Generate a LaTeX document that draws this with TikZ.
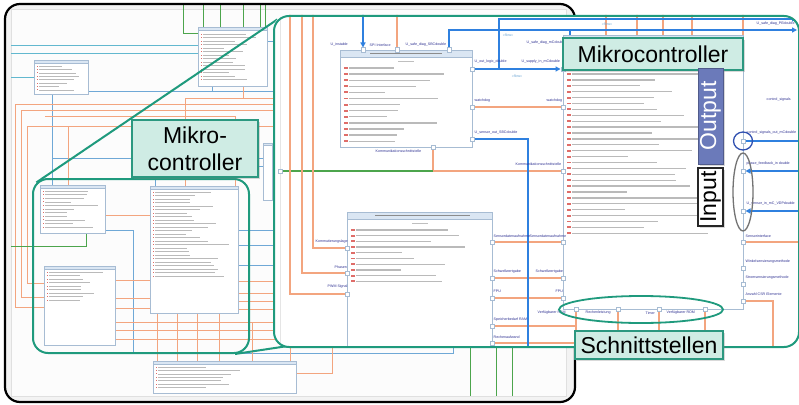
\documentclass[tikz,border=0pt]{standalone}
\usepackage{fontspec}
\usepackage{graphicx}
\setmainfont{Liberation Sans}
\usetikzlibrary{calc}
\usetikzlibrary{shadows}
\usetikzlibrary{arrows.meta}

\definecolor{lupengruen}{HTML}{1F9A7D}
\definecolor{etikettgrund}{HTML}{CFECE4}
\definecolor{etikettrand}{HTML}{2C9880}
\definecolor{leitungorange}{HTML}{F3A57F}
\definecolor{flussblau}{HTML}{2F80DF}
\definecolor{duennblau}{HTML}{6FA8D6}
\definecolor{tuerkis}{HTML}{62B8CF}
\definecolor{leitunggruen}{HTML}{4CA54C}
\definecolor{kastenrand}{HTML}{A7BCD3}
\definecolor{kopfblau}{HTML}{DAE6F3}
\definecolor{markerrot}{HTML}{D9534F}
\definecolor{beschriftung}{HTML}{2E3192}
\definecolor{ausgabe}{HTML}{6B7ABA}
\definecolor{ovalblau}{HTML}{3050B0}
\definecolor{hintergrund}{HTML}{F3F3F3}

\tikzset{
	rahmen/.style={draw=black, line width=2.2pt, rounded corners=15pt},
	lupenrand/.style={draw=lupengruen, line width=2pt, rounded corners=15pt},
	etikett/.style={draw=etikettrand, fill=etikettgrund, line width=1.5pt, inner sep=0pt,
		font=\fontsize{23}{27}\selectfont,
		drop shadow={opacity=0.3, shadow xshift=2pt, shadow yshift=-2pt}},
	ausgabestil/.style={draw=ausgabe!75!black, fill=ausgabe, text=white, line width=1pt, inner sep=0pt,
		font=\fontsize{23}{27}\selectfont,
		drop shadow={opacity=0.3, shadow xshift=2pt, shadow yshift=-2pt}},
	eingabestil/.style={draw=black!85, fill=white, line width=1.5pt, inner sep=0pt,
		font=\fontsize{23}{27}\selectfont,
		drop shadow={opacity=0.3, shadow xshift=2pt, shadow yshift=-2pt}},
	kastenstil/.style={draw=kastenrand, fill=white, line width=0.6pt, inner sep=0pt, anchor=north west},
	kopfstil/.style={draw=kastenrand, fill=kopfblau, line width=0.6pt},
	portstil/.style={draw=kastenrand, fill=white, line width=0.5pt, minimum size=4.5pt, inner sep=0pt},
	orangelinie/.style={draw=leitungorange, line width=1.6pt},
	orangeduenn/.style={draw=leitungorange, line width=0.8pt},
	flusslinie/.style={draw=flussblau, line width=2pt},
	blauduenn/.style={draw=duennblau, line width=0.8pt},
	tuerkisduenn/.style={draw=tuerkis, line width=0.9pt},
	gruenlinie/.style={draw=leitunggruen, line width=1.3pt},
	gruenduenn/.style={draw=leitunggruen, line width=0.7pt},
	klein/.style={font=\fontsize{3.6}{4}\selectfont, text=beschriftung, inner sep=0.5pt, anchor=west},
	flow/.style={font=\fontsize{3.6}{4}\selectfont, text=duennblau, inner sep=0.5pt},
	rotmarke/.style={fill=markerrot!85},
	textbalken/.style={draw=black!27},
	flussspitze/.style={arrows={-Triangle[length=5pt,width=5pt]}},
	flussanfang/.style={arrows={Triangle[length=5pt,width=5pt]-}}
}

% class box with header strip
\newcommand{\umlklasse}[6]{%
	\node[kastenstil, minimum width=#4pt-#2pt, minimum height=#5pt-#3pt] (#1) at (#2,#3) {};
	\filldraw[kopfstil] (#1.north west) rectangle ($(#1.north east)+(0,#6)$);
}
% attribute rows: x, first y, count, step, max length, size
\newcommand{\zeilen}[6]{%
	\foreach \n in {1,...,#3}{%
		\pgfmathsetmacro{\zy}{#2+(\n-1)*#4}%
		\pgfmathsetmacro{\zl}{#5*(0.35+0.65*rnd)}%
		\pgfmathsetmacro{\zw}{0.55*#6}%
		\fill[rotmarke] (#1,\zy-0.45*#6) rectangle ++(1.6*#6,0.9*#6);
		\draw[textbalken, line width=\zw pt] (#1+2.4*#6,\zy) -- ++(\zl,0);
	}}

\begin{document}
\begin{tikzpicture}[x=1pt,y=-1pt]
	\pgfmathsetseed{11}
	\useasboundingbox (0,0) rectangle (799,404);

	% overview diagram in the window
	\fill[hintergrund, rounded corners=15pt] (5,4) rectangle (575,402);
	\begin{scope}
		\clip[rounded corners=15pt] (5,4) rectangle (575,402);
		\draw[black!12, fill=black!1] (11,9) rectangle (566,396);
		\draw[gruenduenn] (183,4) -- (183,33) -- (198,33);
		\foreach \x in {203,220,243,260,265} \draw[gruenduenn] (\x,4) -- (\x,27);
		\draw[tuerkisduenn] (11,45) -- (198,45);
		\draw[tuerkisduenn] (11,53) -- (198,53);
		\draw[tuerkisduenn] (11,77) -- (34,77);
		\draw[blauduenn] (88,91) -- (280,91);
		\draw[blauduenn] (52,94) -- (52,185);
		\draw[blauduenn] (52,158) -- (280,158);
		\draw[blauduenn] (140,166) -- (280,166);
		\draw[blauduenn] (155,166) -- (155,186);
		\draw[blauduenn] (267,41) -- (280,41);
		\draw[blauduenn] (212,86) -- (212,91);
		\draw[orangeduenn] (243,86) -- (243,98);
		\draw[orangeduenn] (185,98) -- (280,98);
		\draw[orangeduenn] (280,104) -- (15,104) -- (15,307) -- (44,307);
		\draw[orangeduenn] (280,110) -- (21,110) -- (21,297) -- (44,297);
		\draw[orangeduenn] (280,126) -- (27,126) -- (27,283) -- (44,283);
		\draw[orangeduenn] (45,116) -- (235,116) -- (235,186);
		\draw[orangeduenn] (185,98) -- (185,186);
		\draw[orangeduenn] (68,126) -- (68,185);
		\draw[orangeduenn] (105,215) -- (150,215);
		\draw[blauduenn] (105,230) -- (133,230) -- (133,353) -- (453,353) -- (453,340);
		\draw[gruenduenn] (11,246) -- (86,246) -- (86,233);
		\foreach \y in {280,298,308} \draw[orangeduenn] (115,\y) -- (150,\y);
		\foreach \y in {322,330,339} \draw[orangeduenn] (115,\y) -- (280,\y);
		\foreach \y in {230,245,265} \draw[blauduenn] (238,\y) -- (280,\y);
		\foreach \y in {281,293,301,309} \draw[orangeduenn] (238,\y) -- (280,\y);
		\foreach \x in {157,177,197,219} \draw[orangeduenn] (\x,313) -- (\x,361);
		\draw[orangeduenn] (252,322) -- (252,361);
		\draw[orangeduenn] (290,340) -- (290,361);
		\draw[orangeduenn] (332,340) -- (332,373) -- (296,373);
		\foreach \x in {470,496,512} \draw[gruenduenn] (\x,340) -- (\x,396);

		\umlklasse{bgoben}{198}{27}{267}{86}{3}
		\zeilen{201}{34}{14}{3.5}{55}{0.9}
		\umlklasse{bglinks}{34}{60}{88}{94}{3}
		\zeilen{37}{66}{8}{3.4}{42}{0.9}
		\umlklasse{bgsaeule}{263}{143}{272}{200}{2}
		\umlklasse{sbA}{40}{185}{105}{233}{3}
		\zeilen{43}{191}{11}{3.6}{55}{0.9}
		\umlklasse{sbB}{150}{186}{238}{313}{3}
		\zeilen{153}{192}{25}{3.5}{80}{0.9}
		\umlklasse{sbC}{44}{266}{115}{345}{3}
		\zeilen{47}{272}{9}{3.5}{62}{0.9}
		\umlklasse{bgunten}{153}{361}{296}{393}{3}
		\zeilen{156}{367}{7}{3.4}{95}{0.9}
	\end{scope}
	\draw[rahmen] (5,4) rectangle (575,402);

	% magnifier frames
	\node[lupenrand, minimum width=216pt, minimum height=174pt, anchor=north west, inner sep=0pt] (lupeklein) at (32,178) {};
	\coordinate (grossNW) at (273,15);
	\coordinate (grossSW) at (273,346);
	\draw[lupenrand, rounded corners=0pt] ($(lupeklein.north west)+(4.4,4.4)$) -- ($(grossNW)+(4.4,4.4)$);
	\draw[lupenrand, rounded corners=0pt] ($(lupeklein.south east)+(-15,0)$) -- ($(grossSW)+(15,0)$);

	\begin{scope}
		\clip[rounded corners=15pt] (273,15) rectangle (798,346);
		\fill[white] (273,15) rectangle (798,346);
		\draw[black!10] (280,10) -- (280,350);

		\umlklasse{sbc}{340}{50}{472}{147}{7}
		\fill[black!45] (370,52.8) rectangle (442,54.3);
		\fill[black!25] (398,61) rectangle (414,62.3);
		\zeilen{344}{68}{13}{6.1}{100}{2.2}
		\umlklasse{mcf}{347}{212}{492}{360}{7}
		\fill[black!45] (375,214.8) rectangle (470,216.3);
		\fill[black!25] (412,223) rectangle (428,224.3);
		\zeilen{351}{230}{10}{5.7}{120}{2.2}
		\umlklasse{mc}{563}{35}{743}{309}{7}
		\zeilen{567}{74}{28}{5.9}{150}{2.2}

		\foreach \n/\x/\y in {a1/363/50, a2/397/50, a3/449/50, a4/472/69, a5/472/107, a6/472/139, a7/433/147,
			b1/347/248, b2/347/273, b3/347/294, b4/492/242, b5/492/278, b6/492/298, b7/492/326, b8/492/343,
			c1/563/69, c2/563/107, c3/563/171, c4/563/242, c5/563/278, c6/563/298,
			r1/743/141, r2/743/171, r3/743/211, r4/743/242, r5/743/268, r6/743/284, r7/743/301,
			u1/576/309, u2/618/309, u3/659/309, u4/705/309, g1/280/171}
			\node[portstil] (\n) at (\x,\y) {};

		\draw[orangelinie] (397,10) -- (a2);
		\draw[orangelinie] (a5) -- (c2);
		\draw[orangelinie] (a7) -- (433,171) -- (c3);
		\draw[gruenlinie] (g1) -- (433,171);
		\draw[orangelinie] (313,10) -- (313,248) -- (b1);
		\draw[orangelinie] (302,10) -- (302,273) -- (b2);
		\draw[orangelinie] (290,10) -- (290,294) -- (b3);
		\draw[orangelinie] (b4) -- (c4);
		\draw[orangelinie] (b5) -- (c5);
		\draw[orangelinie] (b6) -- (c6);
		\draw[orangelinie] (b7) -- (576,326);
		\draw[orangelinie] (b8) -- (576,343);
		\foreach \p in {u1,u2,u3,u4} \draw[orangelinie] (\p) -- (\p |- 0,350);
		\foreach \x in {606,637,663,692,743} \draw[orangelinie] (\x,10) -- (\x,35);
		\draw[orangelinie] (r4) -- (805,242);
		\draw[orangelinie] (r7) -- (773,301) -- (773,350);

		\draw[flusslinie, flussspitze] (363,10) -- (a1);
		\draw[flusslinie, flussspitze] (a3) -- (449,30) -- (797,30);
		\draw[flusslinie, flussspitze] (499,69) -- (499,19) -- (797,19);
		\draw[flusslinie, flussspitze] (a4) -- (c1);
		\draw[flusslinie] (570,30) -- (570,35);
		\draw[flusslinie] (a6) -- (528,139) -- (528,350);
		\draw[flusslinie] (r1) -- (805,141);
		\draw[flusslinie, flussanfang] (r2) -- (805,171);
		\draw[flusslinie, flussanfang] (r3) -- (805,211);

		\foreach \n/\x/\y/\t in {tl1/330/45/U\_instable, tl2/369/45/SPI Interface,
			tl3/405/45/U\_safe\_diag\_SBCdouble, tl4/526/43/U\_safe\_diag\_mCdouble,
			tl5/474/62/U\_out\_logic\_double, tl6/521/62/U\_supply\_in\_mCdouble,
			tl7/474/101/watchdog, tl8/546/101/watchdog, tl9/474/133/U\_sensor\_out\_SBCdouble,
			tl10/375/151/Kommunikationsschnittstelle, tl11/515/164/Kommunikationsschnittstelle,
			tl12/493/236/Sensordatenaufnahme, tl13/529/236/Sensordatenaufnahme,
			tl14/493/272/Schwellwertgabe, tl15/535/272/Schwellwertgabe,
			tl16/493/291/FPU, tl17/555/291/FPU, tl18/493/320/Speicherbedarf RAM,
			tl19/493/337/Rechenaufwand, tl20/537/313/Verfügbarer RAM, tl21/585/313/Rechenleistung,
			tl22/645/313/Timer, tl23/666/313/Verfügbarer ROM,
			tl24/746/133/control\_signals\_out\_mCdouble, tl25/746/164/phase\_feedback\_in double,
			tl26/746/204/U\_sensor\_in\_mC\_VDPdouble, tl27/745/236/Sensorinterface,
			tl28/745/262/Winkelsensierungsmethode, tl29/745/278/Stromsensierungsmethode,
			tl30/745/294/Anzahl CSR Elemente, tl31/756/24/U\_safe\_diag\_PEdouble,
			tl32/766/100/control\_signals, tl33/315/242/Kommutierungslage,
			tl34/334/267/Phasen, tl35/327/287/PWM Signal}
			\node[klein] (\n) at (\x,\y) {\t};
		\foreach \n/\x/\y in {fl1/508/35, fl2/517/76, fl3/607/24}
			\node[flow] (\n) at (\x,\y) {«flow»};
	\end{scope}
	\node[lupenrand, minimum width=525pt, minimum height=331pt, anchor=north west, inner sep=0pt] (lupegross) at (grossNW) {};

	% markings
	\draw[ovalblau, line width=1.3pt] (743,141) ellipse (9.5 and 9);
	\draw[black!55, line width=1.3pt] (743,192) ellipse (10 and 39);
	\draw[lupengruen, line width=1.8pt] (641,309.5) ellipse (82 and 13.5);

	\node[etikett, minimum width=180pt, minimum height=32pt] (mikrocontroller) at (653,54) {Mikrocontroller};
	\node[etikett, align=center, minimum width=126pt, minimum height=57pt] (mikrokurz) at (195,148.5) {Mikro-\\controller};
	\node[etikett, minimum width=148pt, minimum height=28pt] (schnittstellen) at (649,345) {Schnittstellen};
	\node[ausgabestil, minimum width=25pt, minimum height=96pt] (ausgang) at (710.5,116) {\rotatebox{90}{Output}};
	\node[eingabestil, minimum width=25pt, minimum height=58pt] (eingang) at (710.5,197) {\rotatebox{90}{Input}};
\end{tikzpicture}
\end{document}
